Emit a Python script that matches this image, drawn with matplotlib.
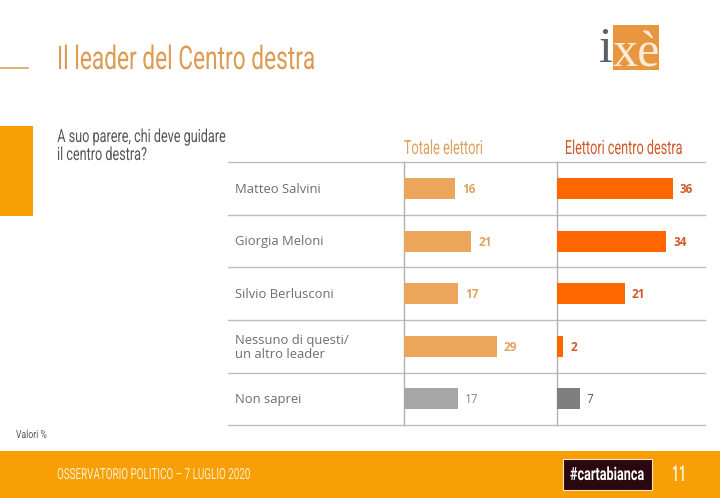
import matplotlib
matplotlib.use('Agg')
import matplotlib.pyplot as plt
import matplotlib.patheffects as pe
from matplotlib.patches import Rectangle
from matplotlib.transforms import Affine2D

# data
leaders = ['Matteo Salvini', 'Giorgia Meloni', 'Silvio Berlusconi', 'Nessuno di questi/\nun altro leader', 'Non saprei']
totale = [16, 21, 17, 29, 17]
centrodestra = [36, 34, 21, 2, 7]

col_tot = ['#EBA65C', '#EBA65C', '#EBA65C', '#EBA65C', '#A6A6A6']
col_cd = ['#FF6600', '#FF6600', '#FF6600', '#FF6600', '#7F7F7F']
txt_tot = ['#E3A35E', '#E3A35E', '#E3A35E', '#E3A35E', '#8A8A8A']
txt_cd = ['#D0592A', '#D0592A', '#D0592A', '#D0592A', '#595959']

W, H = 720, 498
body = ['Open Sans', 'DejaVu Sans']


# no condensed font installed, so squeeze the glyphs sideways around their centre
class Squeeze(pe.AbstractPathEffect):
    def __init__(self, cx, sx):
        super().__init__()
        self.cx = cx
        self.sx = sx

    def draw_path(self, renderer, gc, tpath, affine, rgbFace=None):
        squeeze = Affine2D().translate(-self.cx, 0).scale(self.sx, 1).translate(self.cx, 0)
        renderer.draw_path(gc, tpath, affine + squeeze, rgbFace)


def narrow_text(ax, cx, y, s, size, sx, color, **kw):
    t = ax.text(cx, y, s, family='Roboto', fontsize=size, color=color, ha='center', va='center', **kw)
    t.set_path_effects([Squeeze(cx, sx)])
    return t


fig = plt.figure(figsize=(7.2, 4.98), dpi=100)

# background layer in pixel coordinates
bg = fig.add_axes([0, 0, 1, 1])
bg.set_xlim(0, W)
bg.set_ylim(H, 0)
bg.axis('off')

bg.add_patch(Rectangle((0, 126), 33, 90, fc='#F79F04', ec='none'))
bg.add_patch(Rectangle((0, 451), W, 47, fc='#F79F04', ec='none'))
bg.plot([0, 28], [68, 68], color='#E3A35E', lw=1.2)
narrow_text(bg, 186, 60, 'Il leader del Centro destra', 23.5, 0.695, '#DD9A50')
narrow_text(bg, 141.5, 137, 'A suo parere, chi deve guidare', 13, 0.70, '#555555')
narrow_text(bg, 102, 155, 'il centro destra?', 13, 0.70, '#555555')
narrow_text(bg, 443.5, 149, 'Totale elettori', 14, 0.66, '#DDA05E')
narrow_text(bg, 624, 149, 'Elettori centro destra', 14, 0.65, '#D0592A')
narrow_text(bg, 31.5, 435, 'Valori %', 8, 0.78, '#555555')
narrow_text(bg, 153.5, 475, 'OSSERVATORIO POLITICO – 7 LUGLIO 2020', 11, 0.645, '#FFEFD0')

# logo
bg.add_patch(Rectangle((613, 25), 46, 45, fc='#E8963F', ec='none'))
bg.text(605.5, 62, 'i', family='Liberation Serif', fontsize=36, color='#5A6068', ha='center', va='baseline')
bg.text(636.5, 66, 'xè', family='Liberation Serif', fontsize=36, color='#FBEBD8', ha='center', va='baseline')

# footer badge
bg.add_patch(Rectangle((563, 459), 89, 31, fc='#2A0810', ec='#F8E4C0', lw=0.8))
narrow_text(bg, 607, 475, '#cartabianca', 13, 0.70, 'white', weight='bold')
narrow_text(bg, 679, 475, '11', 16, 0.55, '#FFEFD0', weight='bold')

# row grid
row_edges = [162, 214.5, 267, 320, 372.5, 424.5]
for y in row_edges:
    bg.plot([228, 705], [y, y], color='#BDBDBD', lw=1)
for x in [403.5, 557]:
    bg.plot([x, x], [162, 424.5], color='#B0B0B0', lw=1)

for i, name in enumerate(leaders):
    yc = (row_edges[i] + row_edges[i + 1]) / 2 + 1
    bg.text(235, yc, name, family=body, fontsize=9.4, color='#6E6E6E', va='center', linespacing=1.15)


def bar_panel(x0, x1, values, colors, txt_colors):
    ax = fig.add_axes([x0 / W, 1 - 425.2 / H, (x1 - x0) / W, (424.5 - 162) / H])
    ax.patch.set_alpha(0)
    y = range(len(values))
    ax.barh(y, values, height=0.4, color=colors)
    for yi, v, c, col in zip(y, values, txt_colors, colors):
        ax.annotate(str(v), (v, yi), xytext=(5, -0.7), textcoords='offset points', family=body,
                    fontsize=8.5, weight='bold' if col.startswith('#FF') or col == '#EBA65C' else 'normal',
                    color=c, va='center')
    ax.set_xlim(0, (x1 - x0) / 3.22)
    ax.set_ylim(len(values) - 0.5, -0.5)
    ax.axis('off')


bar_panel(403.5, 556, totale, col_tot, txt_tot)
bar_panel(557, 705, centrodestra, col_cd, txt_cd)

fig.savefig('out.png', dpi=100)
